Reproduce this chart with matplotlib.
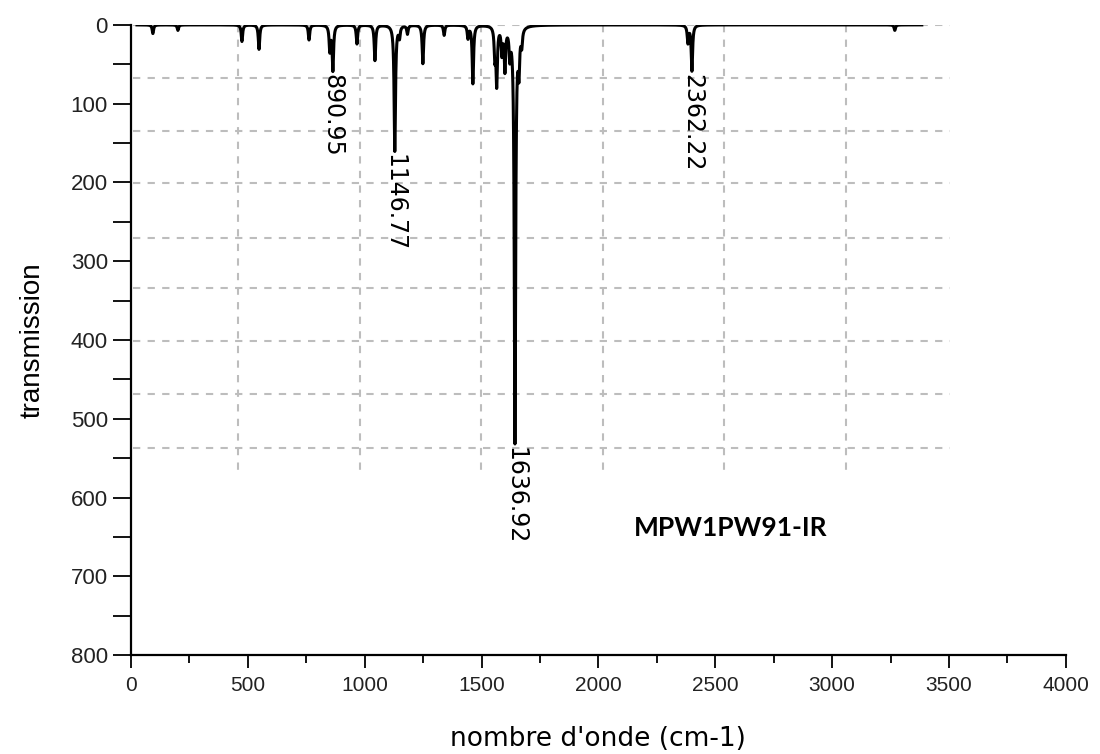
import numpy as np
import matplotlib
matplotlib.use("Agg")
import matplotlib.pyplot as plt
from matplotlib.ticker import MultipleLocator

# Bandes IR (position en cm-1, intensité)
band_pos = [94, 201, 475, 548, 762, 851, 864, 967, 1044, 1129, 1149, 1183,
            1249, 1340, 1442, 1463, 1557, 1565, 1587, 1600, 1621, 1643,
            1660, 1672, 2383, 2400, 3268]
band_int = [11, 7, 21, 31, 19, 32, 57, 24, 45, 160, 14, 11,
            49, 13, 16, 74, 37, 72, 33, 54, 34, 528,
            50, 20, 22, 58, 7]

# pics annotés : position du pic et texte affiché
label_pos = [864, 1129, 1643, 2400]
label_txt = ["890.95", "1146.77", "1636.92", "2362.22"]

x_start, x_end = 26, 3384
hwhm = 3.5

# spectre : somme de lorentziennes
x = np.arange(x_start, x_end, 0.5)
y = np.zeros_like(x)
for p, a in zip(band_pos, band_int):
    y += a * hwhm**2 / ((x - p) ** 2 + hwhm**2)

fig = plt.figure(figsize=(11, 7.54), dpi=100)
ax = fig.add_axes([0.119, 0.131, 0.85, 0.836])

# grille décalée (comme sur l'original)
grid_kw = dict(color="#bdbdbd", lw=1.5, dashes=(3.5, 3.5), zorder=0)
for gx in np.arange(458, 3100, 520):
    ax.plot([gx, gx], [0, 574], **grid_kw)
for gy in [0, 67, 135, 201, 270, 334, 401, 469, 537]:
    ax.plot([10, 3504], [gy, gy], **grid_kw)

ax.plot(x, y, color="black", lw=2.2, zorder=3)

for p, t in zip(label_pos, label_txt):
    i = np.argmin(np.abs(x - p))
    ax.annotate(t, (p, y[i]), xytext=(0, -2), textcoords="offset points",
                rotation=-90, ha="center", va="top", fontsize=17,
                family="DejaVu Sans")

ax.text(2567, 639, "MPW1PW91-IR", fontsize=19, fontweight="bold",
        family=["Lato", "DejaVu Sans"], ha="center", va="center")

ax.set_xlim(0, 4000)
ax.set_ylim(800, 0)
ax.xaxis.set_major_locator(MultipleLocator(500))
ax.xaxis.set_minor_locator(MultipleLocator(250))
ax.yaxis.set_major_locator(MultipleLocator(100))
ax.yaxis.set_minor_locator(MultipleLocator(50))

ax.spines["top"].set_visible(False)
ax.spines["right"].set_visible(False)
ax.spines["left"].set_linewidth(1.6)
ax.spines["bottom"].set_linewidth(1.6)
ax.tick_params(which="major", length=9, width=1.3, direction="out")
ax.tick_params(which="minor", length=6, width=1.3, direction="out")
ax.tick_params(axis="y", which="both", length=13)
ax.tick_params(axis="x", which="major", pad=6)

for lab in ax.get_yticklabels():
    lab.set_family(["Liberation Sans", "DejaVu Sans"])
    lab.set_fontsize(16)
    lab.set_color("#222222")
for lab in ax.get_xticklabels():
    lab.set_family(["Liberation Sans", "DejaVu Sans"])
    lab.set_fontsize(15)
    lab.set_color("#222222")

ax.set_xlabel("nombre d'onde (cm-1)", fontsize=19,
              family=["DejaVu Sans"], labelpad=22)
ax.set_ylabel("transmission", fontsize=20,
              family=["Liberation Sans", "DejaVu Sans"], labelpad=18)

fig.savefig("out.png", dpi=100)
